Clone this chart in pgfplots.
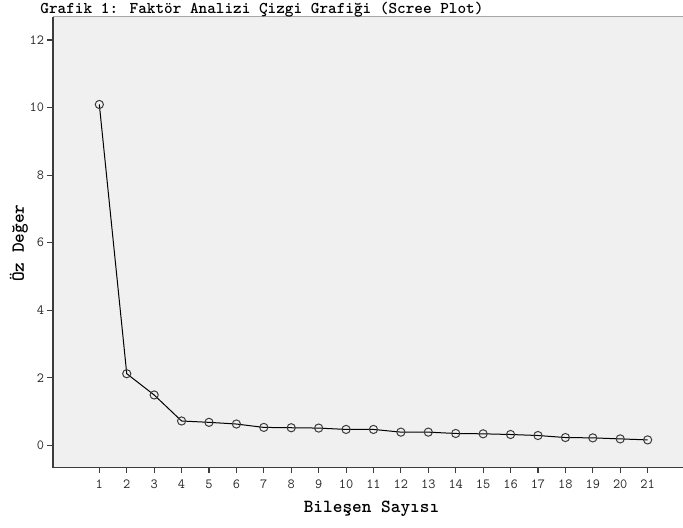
\documentclass[border=0pt]{standalone}
\usepackage{pgfplots}
\pgfplotsset{compat=1.18}
\definecolor{bggray}{HTML}{F0F0F0}
\definecolor{axgray}{HTML}{3C3C3C}
\begin{document}
\begin{tikzpicture}
\begin{axis}[
    scale only axis,
    width=630bp, height=450.6bp,
    xmin=-0.69, xmax=22.29,
    ymin=-0.66, ymax=12.68,
    axis background/.style={fill=bggray},
    axis lines*=left,
    axis line style={axgray, line width=1.6bp},
    xtick={1,...,21},
    ytick={0,2,...,12},
    tick align=outside,
    major tick length=5.5bp,
    tick style={axgray, line width=1.1bp},
    /pgf/number format/assume math mode=true,
    ticklabel style={font=\fontsize{14}{14}\selectfont\ttfamily, text=black!85},
    x tick label style={yshift=-3bp},
    title={Grafik 1: Faktör Analizi Çizgi Grafiği (Scree Plot)},
    every axis title/.style={font=\fontsize{16.5}{16.5}\selectfont\ttfamily\bfseries,
                 at={(axis description cs:0.3317,1.0067)}, anchor=base},
    xlabel={Bileşen Sayısı},
    ylabel={Öz Değer},
    xlabel style={font=\fontsize{18.5}{18.5}\selectfont\ttfamily\bfseries,
                  at={(axis description cs:0.5056,-0.091)}, anchor=center},
    ylabel style={font=\fontsize{18.5}{18.5}\selectfont\ttfamily\bfseries,
                  at={(axis description cs:-0.054,0.498)}, anchor=center},
    after end axis/.code={
        \draw[gray!70, line width=1bp] (rel axis cs:0,1) -- (rel axis cs:1,1);
    },
]
\addplot[black, line width=1bp, mark=o, mark size=4.1bp,
         mark options={draw=axgray, fill=bggray, line width=1bp}]
coordinates {
    (1,10.09) (2,2.12) (3,1.49) (4,0.72) (5,0.68) (6,0.63) (7,0.53)
    (8,0.52) (9,0.51) (10,0.47) (11,0.47) (12,0.39) (13,0.39) (14,0.35)
    (15,0.34) (16,0.32) (17,0.29) (18,0.23) (19,0.22) (20,0.19) (21,0.16)
};
\end{axis}
\pgfresetboundingbox
\path[use as bounding box] (-53bp,-60.4bp) rectangle (630bp,467.6bp);
\end{tikzpicture}
\end{document}
